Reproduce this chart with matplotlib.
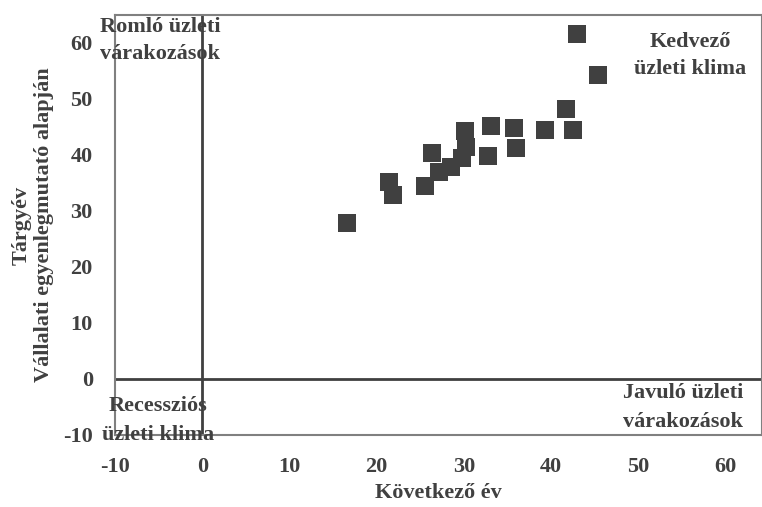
import matplotlib
matplotlib.use("Agg")
import matplotlib.pyplot as plt

# Következő év (x) vs tárgyév (y)
next_year = [16.6, 21.4, 21.9, 25.5, 26.4, 27.1, 28.5, 29.8, 30.1, 30.2,
             33.1, 32.8, 35.8, 36.0, 39.3, 42.5, 41.7, 43.0, 45.4]
current_year = [27.9, 35.2, 32.9, 34.5, 40.4, 37.0, 37.8, 39.4, 44.3, 41.4,
                45.2, 39.8, 44.8, 41.3, 44.5, 44.5, 48.3, 61.6, 54.3]

ticks = [-10, 0, 10, 20, 30, 40, 50, 60]

# text, x, y, alignment, line spacing
quadrants = [
    ("Romló üzleti\nvárakozások", -11.7, 64.6, "left", 1.45),
    ("Kedvező\nüzleti klima", 56.0, 62.0, "center", 1.45),
    ("Recessziós\nüzleti klima", -5.1, -3.0, "center", 1.6),
    ("Javuló üzleti\nvárakozások", 48.3, -0.8, "left", 1.6),
]

TEXT = "#404040"
plt.rcParams["font.family"] = ["Liberation Serif", "DejaVu Serif"]
plt.rcParams["font.weight"] = "bold"
plt.rcParams["font.size"] = 16
plt.rcParams["axes.unicode_minus"] = False

fig = plt.figure(figsize=(7.62, 5.07), dpi=100)
ax = fig.add_axes([115 / 762, 1 - 435 / 507, 647 / 762, 420 / 507])

ax.scatter(next_year, current_year, marker="s", s=185, color="#404040",
           linewidths=0, zorder=3)

ax.axhline(0, color="#404040", lw=2, zorder=2)
ax.axvline(0, color="#404040", lw=2, zorder=2)

ax.set_xlim(-10, 64.2)
ax.set_ylim(-10, 65)
ax.set_xticks(ticks)
ax.set_yticks(ticks)
ax.tick_params(length=0, pad=16, labelcolor=TEXT, labelsize=16)
for lab in ax.get_xticklabels() + ax.get_yticklabels():
    lab.set_fontweight("bold")

for s in ax.spines.values():
    s.set_color("#808080")
    s.set_linewidth(1.5)

for text, x, y, ha, ls in quadrants:
    ax.text(x, y, text, ha=ha, va="top", color=TEXT, fontsize=16,
            fontweight="bold", linespacing=ls, clip_on=False, zorder=4)

ax.set_xlabel("Következő év", color=TEXT, fontsize=16, fontweight="bold",
              labelpad=4)
fig.text(33 / 762, 1 - 225 / 507, "Tárgyév\nVállalati egyenlegmutató alapján",
         rotation=90, ha="center", va="center", color=TEXT, fontsize=16,
         fontweight="bold", linespacing=1.2)

fig.savefig("out.png", dpi=100)
